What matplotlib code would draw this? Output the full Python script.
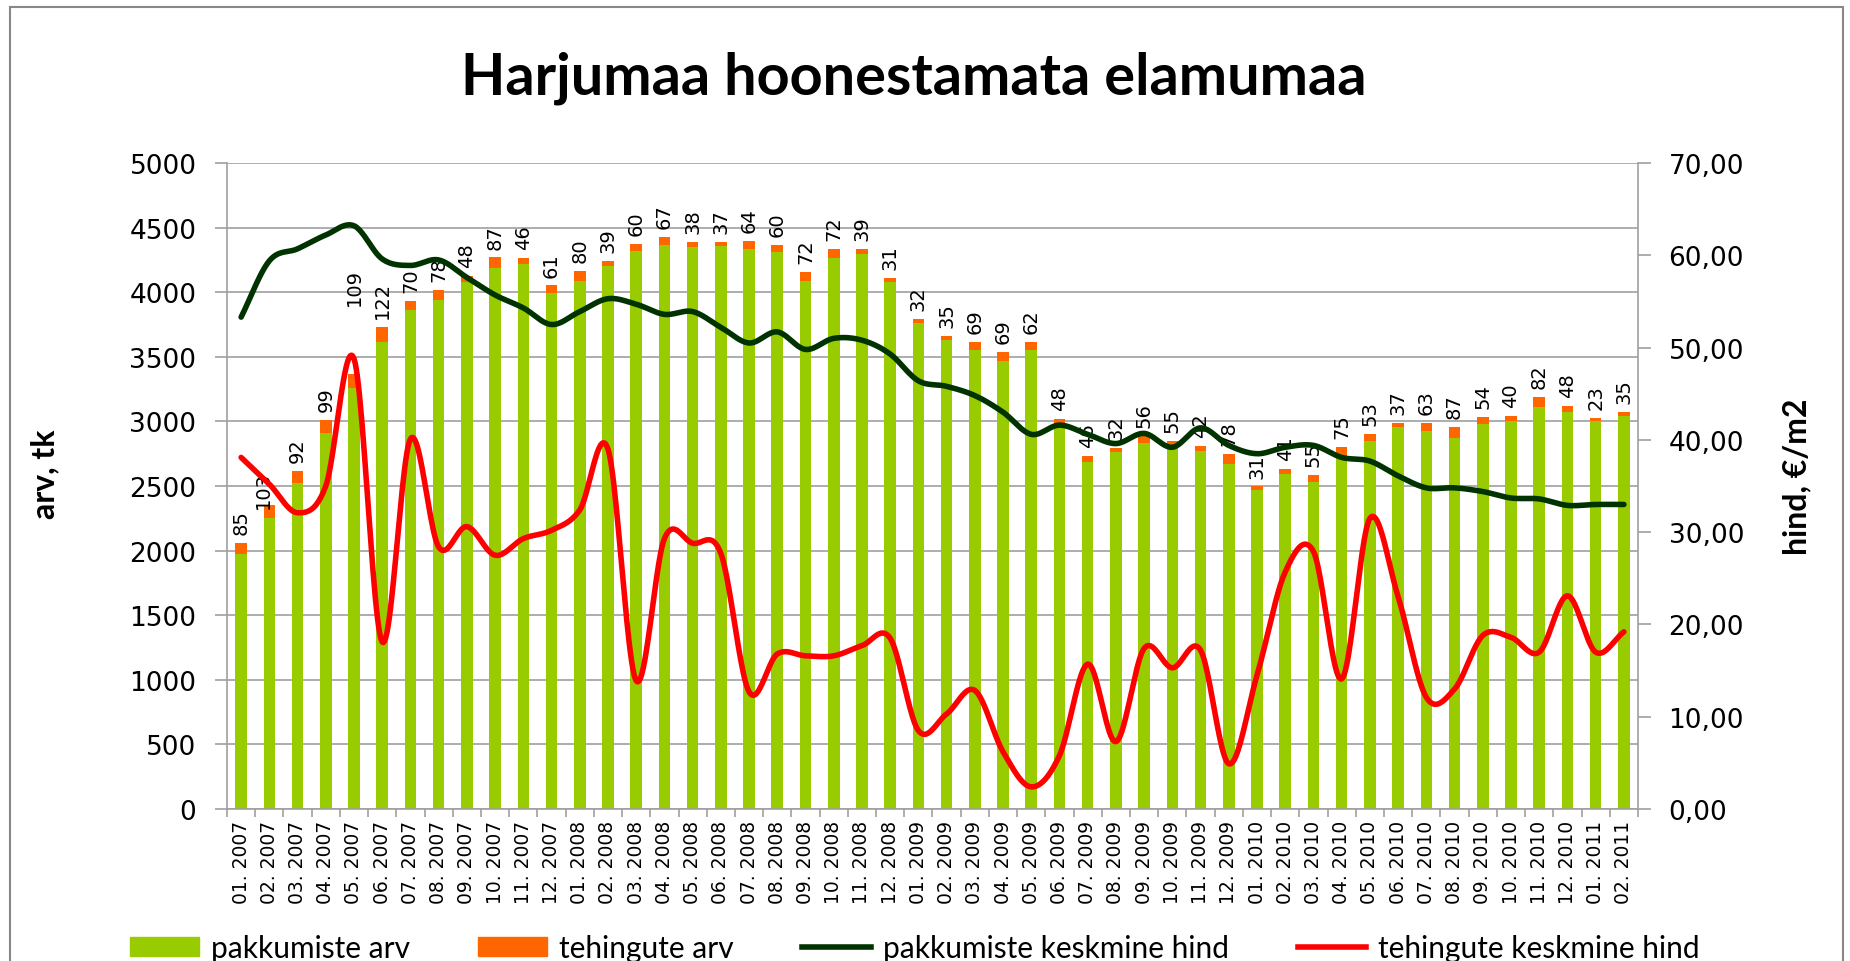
import matplotlib
matplotlib.use("Agg")
import matplotlib.pyplot as plt
import numpy as np
from matplotlib.patches import Patch, Rectangle
from matplotlib.lines import Line2D

# kuud
kuud = [
    "01. 2007", "02. 2007", "03. 2007", "04. 2007", "05. 2007", "06. 2007",
    "07. 2007", "08. 2007", "09. 2007", "10. 2007", "11. 2007", "12. 2007",
    "01. 2008", "02. 2008", "03. 2008", "04. 2008", "05. 2008", "06. 2008",
    "07. 2008", "08. 2008", "09. 2008", "10. 2008", "11. 2008", "12. 2008",
    "01. 2009", "02. 2009", "03. 2009", "04. 2009", "05. 2009", "06. 2009",
    "07. 2009", "08. 2009", "09. 2009", "10. 2009", "11. 2009", "12. 2009",
    "01. 2010", "02. 2010", "03. 2010", "04. 2010", "05. 2010", "06. 2010",
    "07. 2010", "08. 2010", "09. 2010", "10. 2010", "11. 2010", "12. 2010",
    "01. 2011", "02. 2011",
]

pakkumiste_arv = [
    1976, 2250, 2526, 2914, 3258, 3612, 3865, 3941, 4080, 4186,
    4221, 3996, 4086, 4204, 4316, 4363, 4353, 4354, 4335, 4308,
    4087, 4265, 4298, 4081, 3763, 3629, 3549, 3471, 3556, 2972,
    2688, 2764, 2834, 2796, 2770, 2672, 2466, 2593, 2533, 2729,
    2852, 2953, 2927, 2872, 2982, 3004, 3109, 3073, 3005, 3040,
]

tehingute_arv = [
    85, 103, 92, 99, 109, 122, 70, 78, 48, 87,
    46, 61, 80, 39, 60, 67, 38, 37, 64, 60,
    72, 72, 39, 31, 32, 35, 69, 69, 62, 48,
    46, 32, 56, 55, 42, 78, 31, 41, 55, 75,
    53, 37, 63, 87, 54, 40, 82, 48, 23, 35,
]

pakkumiste_hind = [
    53.3, 59.4, 60.7, 62.2, 63.2, 59.6, 58.9, 59.5, 57.6, 55.7,
    54.3, 52.5, 53.9, 55.3, 54.7, 53.6, 53.9, 52.2, 50.5, 51.7,
    49.8, 51.0, 50.8, 49.3, 46.4, 45.8, 44.8, 43.0, 40.6, 41.6,
    40.6, 39.6, 40.7, 39.2, 41.3, 39.4, 38.5, 39.2, 39.4, 38.1,
    37.7, 36.1, 34.8, 34.8, 34.4, 33.7, 33.6, 32.9, 33.0, 33.0,
]

tehingute_hind = [
    38.1, 35.2, 32.1, 35.0, 48.8, 18.1, 40.1, 28.4, 30.6, 27.5,
    29.3, 30.2, 32.4, 39.0, 13.9, 29.3, 28.8, 27.7, 12.7, 16.8,
    16.6, 16.6, 17.7, 18.5, 8.5, 10.3, 12.85, 6.2, 2.4, 5.8,
    15.7, 7.3, 17.4, 15.3, 17.2, 4.9, 14.5, 25.7, 27.9, 14.1,
    31.5, 23.0, 12.1, 13.0, 18.8, 18.6, 17.0, 23.1, 17.0, 19.2,
]

ROHELINE = "#99CC00"
ORANZ = "#FF6600"
TUMEROHELINE = "#003300"
PUNANE = "#FF0000"
HALL = "#A0A0A0"


# silutud joon nagu excelis (catmull-rom)
def silu(x, y, n=24):
    x = np.asarray(x, float)
    y = np.asarray(y, float)
    px = np.concatenate([[2 * x[0] - x[1]], x, [2 * x[-1] - x[-2]]])
    py = np.concatenate([[2 * y[0] - y[1]], y, [2 * y[-1] - y[-2]]])
    xs, ys = [], []
    t = np.linspace(0, 1, n, endpoint=False)
    for i in range(1, len(px) - 2):
        for p, out in ((px, xs), (py, ys)):
            p0, p1, p2, p3 = p[i - 1], p[i], p[i + 1], p[i + 2]
            out.extend(0.5 * ((2 * p1) + (-p0 + p2) * t
                              + (2 * p0 - 5 * p1 + 4 * p2 - p3) * t ** 2
                              + (-p0 + 3 * p1 - 3 * p2 + p3) * t ** 3))
    xs.append(x[-1])
    ys.append(y[-1])
    return np.array(xs), np.array(ys)


fig = plt.figure(figsize=(18.5, 9.62), dpi=100)
ax = fig.add_axes([0.1227, 0.158, 0.7627, 0.6715])

x = np.arange(len(kuud))
laius = 0.41
ax.bar(x, pakkumiste_arv, laius, color=ROHELINE, zorder=2)
ax.bar(x, tehingute_arv, laius, bottom=pakkumiste_arv, color=ORANZ, zorder=2)

# käsitsi nihutatud sildid (punktides)
nihked = {1: (-4, -2), 4: (0, 50)}
for i in range(len(x)):
    kokku = pakkumiste_arv[i] + tehingute_arv[i]
    dx, dy = nihked.get(i, (0, 6))
    ax.annotate(str(tehingute_arv[i]), (x[i], kokku), xytext=(dx, dy),
                textcoords="offset points", rotation=90, ha="center",
                va="bottom", fontsize=14, family="DejaVu Sans", zorder=3)

ax.set_xlim(-0.5, len(kuud) - 0.5)
ax.set_ylim(0, 5000)
ax.set_yticks(np.arange(0, 5001, 500))
ax.yaxis.grid(True, color=HALL, linewidth=1.2, zorder=0)
ax.set_axisbelow(True)

ax.set_xticks(x)
ax.set_xticklabels(kuud, rotation=90, fontsize=13.5, family="DejaVu Sans")
ax.set_xticks(np.arange(-0.5, len(kuud), 1), minor=True)
ax.tick_params(axis="x", which="major", length=0, pad=8)
ax.tick_params(axis="x", which="minor", length=6, color=HALL, width=1.2)
ax.tick_params(axis="y", length=9, color=HALL, width=1.2, pad=13,
               labelsize=19)
for lab in ax.get_yticklabels():
    lab.set_family("DejaVu Sans")

for s in ["top", "right"]:
    ax.spines[s].set_visible(False)
for s in ["left", "bottom"]:
    ax.spines[s].set_color(HALL)
    ax.spines[s].set_linewidth(1.2)

ax.set_ylabel("arv, tk", fontsize=23, fontweight="bold", family="Lato")
ax.yaxis.set_label_coords(-0.119, 0.519)

ax2 = ax.twinx()
ax2.set_ylim(0, 70)
ax2.set_yticks(np.arange(0, 71, 10))
ax2.set_yticklabels([f"{v:.2f}".replace(".", ",") for v in range(0, 71, 10)],
                    fontsize=19, family="DejaVu Sans")
ax2.tick_params(axis="y", length=9, color=HALL, width=1.2, pad=13)
for s in ["top", "left", "bottom"]:
    ax2.spines[s].set_visible(False)
ax2.spines["right"].set_color(HALL)
ax2.spines["right"].set_linewidth(1.2)

sx, sy = silu(x, pakkumiste_hind)
ax2.plot(sx, sy, color=TUMEROHELINE, linewidth=4, solid_capstyle="round")
sx, sy = silu(x, tehingute_hind)
ax2.plot(sx, sy, color=PUNANE, linewidth=4, solid_capstyle="round")

ax2.set_ylabel("hind, €/m2", fontsize=23, fontweight="bold", family="Lato")
ax2.yaxis.set_label_coords(1.102, 0.516)

fig.text(914 / 1850, 1 - 78 / 962, "Harjumaa hoonestamata elamumaa",
         ha="center", va="center", fontsize=41.5, fontweight="bold",
         family="Lato")

kasitsejad = [
    Patch(color=ROHELINE, label="pakkumiste arv"),
    Patch(color=ORANZ, label="tehingute arv"),
    Line2D([], [], color=TUMEROHELINE, linewidth=4, label="pakkumiste keskmine hind"),
    Line2D([], [], color=PUNANE, linewidth=4, label="tehingute keskmine hind"),
]
fig.legend(handles=kasitsejad, loc="center", ncol=4,
           bbox_to_anchor=(915 / 1850, 13 / 962), frameon=False,
           prop={"family": "Lato", "size": 21.5}, handlelength=2.3,
           handleheight=0.65, columnspacing=2.3, handletextpad=0.4)

# raam ümber
fig.patches.append(Rectangle((10 / 1850, -0.02), 1833 / 1850, 1.02 - 8 / 962,
                             transform=fig.transFigure, fill=False,
                             edgecolor="#888888", linewidth=1.5))

fig.savefig("out.png", dpi=100)
